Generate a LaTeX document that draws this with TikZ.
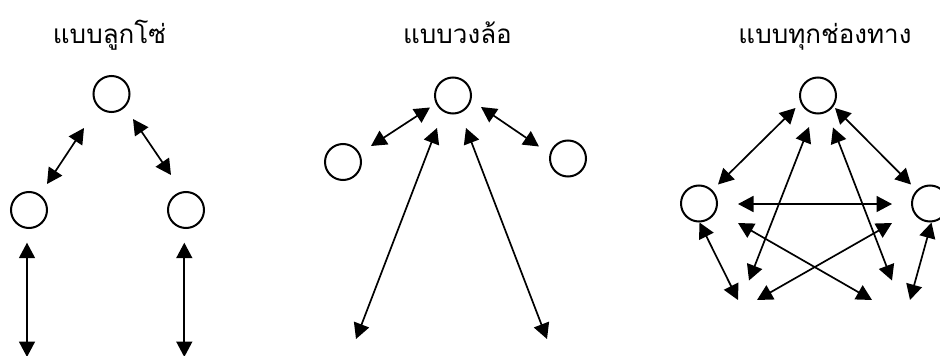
\documentclass[tikz,border=0pt]{standalone}
\usepackage{fontspec}
\newfontfamily\thaifont[Script=Thai]{Loma}
\usetikzlibrary{arrows.meta}
\begin{document}
\begin{tikzpicture}[x=1pt,y=-1pt,
  member/.style={circle,draw,line width=2pt,minimum size=36pt,inner sep=0pt},
  headtip/.tip={Triangle[length=15.5pt,width=16pt]},
  link/.style={headtip-headtip,line width=1.7pt},
  heading/.style={anchor=base,font=\thaifont\fontsize{26}{30}\selectfont,inner sep=0pt}]
\useasboundingbox (0,0) rectangle (940,356);
% titles
\node[heading] (t1) at (109.5,43) {แบบลูกโซ่};
\node[heading] (t2) at (457.5,43) {แบบวงล้อ};
\node[heading] (t3) at (825,43) {แบบทุกช่องทาง};
% panel 1: chain
\node[member] (c1t) at (111.5,94) {};
\node[member] (c1l) at (29,210) {};
\node[member] (c1r) at (186,210) {};
\coordinate (p1a) at (84,128);  \coordinate (p1b) at (47,184);
\coordinate (p1c) at (133,119); \coordinate (p1d) at (171,175);
\coordinate (p1e) at (27,242.7);  \coordinate (p1f) at (27,357);
\coordinate (p1g) at (184.3,242.7); \coordinate (p1h) at (184.3,357);
\draw[link] (p1a) -- (p1b);
\draw[link] (p1c) -- (p1d);
\draw[link] (p1e) -- (p1f);
\draw[link] (p1g) -- (p1h);
% panel 2: wheel
\node[member] (c2t) at (453,95.5) {};
\node[member] (c2l) at (343,162) {};
\node[member] (c2r) at (568,158.5) {};
\coordinate (p2a) at (430,107.5); \coordinate (p2b) at (371,146);
\coordinate (p2c) at (481,107);   \coordinate (p2d) at (539,146.5);
\coordinate (p2e) at (437,128);   \coordinate (p2f) at (356,339);
\coordinate (p2g) at (466,128);   \coordinate (p2h) at (547,339);
\draw[link] (p2a) -- (p2b);
\draw[link] (p2c) -- (p2d);
\draw[link] (p2e) -- (p2f);
\draw[link] (p2g) -- (p2h);
% panel 3: all channels
\node[member] (c3t) at (818,95.5) {};
\node[member] (c3l) at (699,203.5) {};
\node[member] (c3r) at (930,203.5) {};
\coordinate (p3a) at (795.5,108);  \coordinate (p3b) at (718,184.5);
\coordinate (p3c) at (835,108);    \coordinate (p3d) at (911,184.5);
\coordinate (p3e) at (809,127);    \coordinate (p3f) at (749,280.5);
\coordinate (p3g) at (833,127.5);  \coordinate (p3h) at (892,280.5);
\coordinate (p3i) at (738,204);    \coordinate (p3j) at (892,204);
\coordinate (p3k) at (738,223);    \coordinate (p3l) at (872,300);
\coordinate (p3m) at (892,223);    \coordinate (p3n) at (757,300);
\coordinate (p3o) at (699.5,222.5);\coordinate (p3p) at (738,300);
\coordinate (p3q) at (931.5,222.5);\coordinate (p3r) at (910,300);
\draw[link] (p3a) -- (p3b);
\draw[link] (p3c) -- (p3d);
\draw[link] (p3e) -- (p3f);
\draw[link] (p3g) -- (p3h);
\draw[link] (p3i) -- (p3j);
\draw[link] (p3k) -- (p3l);
\draw[link] (p3m) -- (p3n);
\draw[link] (p3o) -- (p3p);
\draw[link] (p3q) -- (p3r);
\end{tikzpicture}
\end{document}
